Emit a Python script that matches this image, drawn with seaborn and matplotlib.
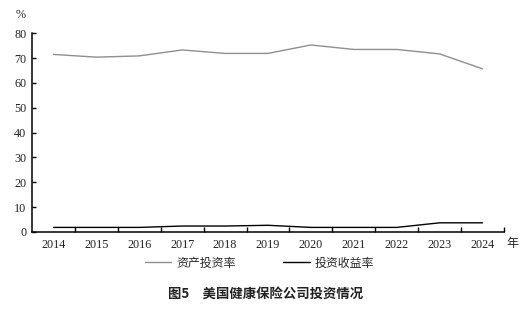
import matplotlib
matplotlib.use("Agg")
import matplotlib.pyplot as plt
import seaborn as sns
import pandas as pd
import numpy as np

years = ["2014", "2015", "2016", "2017", "2018", "2019", "2020", "2021", "2022", "2023", "2024"]
asset_invest_rate = [71.5, 70.4, 70.9, 73.3, 71.9, 71.9, 75.3, 73.5, 73.5, 71.7, 65.7]
invest_return_rate = [1.85, 1.85, 1.85, 2.4, 2.4, 2.7, 1.85, 1.85, 1.85, 3.7, 3.7]
series_names = ["资产投资率", "投资收益率"]
y_ticks = [0, 10, 20, 30, 40, 50, 60, 70, 80]

sns.set_theme(style="white")
plt.rcParams['font.family'] = ['Liberation Serif', 'Noto Sans CJK SC', 'DejaVu Sans']

pos = np.arange(len(years))
df = pd.DataFrame({
    "pos": np.concatenate([pos, pos]),
    "value": asset_invest_rate + invest_return_rate,
    "series": [series_names[0]] * len(years) + [series_names[1]] * len(years),
})

fig = plt.figure(figsize=(5.31, 3.17), dpi=100)
ax = fig.add_axes([32 / 531, 1 - 232 / 317, (504 - 32) / 531, (232 - 33.3) / 317])

sns.lineplot(data=df, x="pos", y="value", hue="series",
             palette={series_names[0]: "#8f8f8f", series_names[1]: "#000000"},
             linewidth=1.0, ax=ax, legend=False)

ax.set_xlim(-0.5, len(years) - 0.5)
ax.set_ylim(0, 80)
ax.set_yticks(y_ticks)
ax.set_yticklabels([str(t) for t in y_ticks], fontsize=8.7, family='Liberation Serif')
ax.set_xticks(pos)
ax.set_xticklabels(years, fontsize=8.7, family='Liberation Serif')
ax.set_xticks(np.arange(len(years)) + 0.5, minor=True)
ax.tick_params(axis='x', which='major', length=0, pad=5, colors='#222222')
ax.tick_params(axis='x', which='minor', length=3.5, width=1, direction='in', color='black', bottom=True)
ax.tick_params(axis='y', which='major', length=3, width=1, direction='in', pad=4, color='black', left=True, colors='#222222')
ax.set_xlabel("")
ax.set_ylabel("")
for s in ["top", "right"]:
    ax.spines[s].set_visible(False)
for s in ["left", "bottom"]:
    ax.spines[s].set_color("black")
    ax.spines[s].set_linewidth(1.1)
ax.grid(False)

fig.text(21 / 531, 1 - 15 / 317, "%", fontsize=8.7, ha='center', va='center', family='Liberation Serif', color='#222222')
fig.text(512 / 531, 1 - 244 / 317, "年", fontsize=8.7, ha='center', va='center', family='Noto Sans CJK SC', color='#222222')

from matplotlib.lines import Line2D
handles = [Line2D([], [], color="#8f8f8f", linewidth=1.0), Line2D([], [], color="#000000", linewidth=1.0)]
fig.legend(handles, series_names, loc='center', bbox_to_anchor=(259.5 / 531, 1 - 263 / 317), ncol=2,
           frameon=False, handlelength=2.2, handletextpad=0.4, columnspacing=4.0,
           prop={'family': 'Noto Sans CJK SC', 'size': 8.6})

fig.text(266 / 531, 1 - 294 / 317, "图5　美国健康保险公司投资情况", fontsize=9.6, fontweight='bold',
         ha='center', va='center', family='Noto Sans CJK SC', color='#222222')

fig.savefig("out.png", dpi=100, facecolor='white')
